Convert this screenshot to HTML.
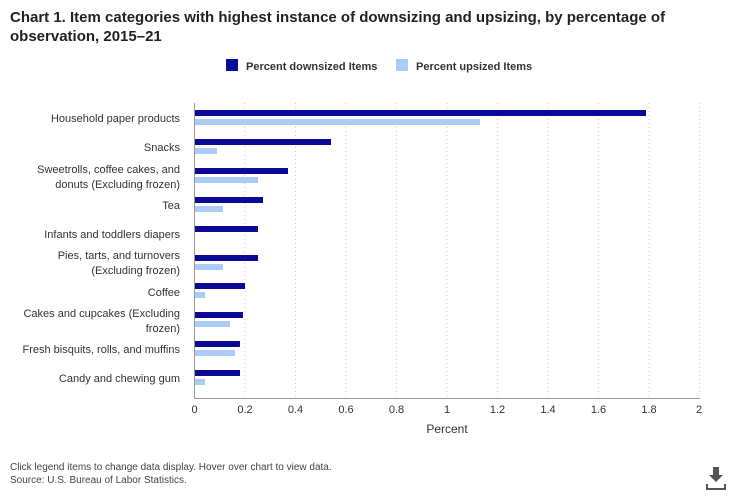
<!DOCTYPE html><html><head><style>body{margin:0;background:#fff;width:740px;height:493px;overflow:hidden;font-family:"Liberation Sans",sans-serif}</style></head><body>
<svg width="740" height="493" xmlns="http://www.w3.org/2000/svg" font-family="Liberation Sans, sans-serif">
<text x="10" y="22" font-size="15" font-weight="bold" fill="#222">Chart 1. Item categories with highest instance of downsizing and upsizing, by percentage of</text>
<text x="10" y="41" font-size="15" font-weight="bold" fill="#222">observation, 2015–21</text>
<rect x="226" y="59" width="12" height="12" fill="#0a0a96"/><text x="246" y="70" font-size="11" font-weight="bold" fill="#333">Percent downsized Items</text>
<rect x="396" y="59" width="12" height="12" fill="#aacdf7"/><text x="416" y="70" font-size="11" font-weight="bold" fill="#333">Percent upsized Items</text>
<g stroke="#ccc" stroke-dasharray="1,3">
<line x1="245" y1="103" x2="245" y2="398"/><line x1="295.5" y1="103" x2="295.5" y2="398"/><line x1="346" y1="103" x2="346" y2="398"/><line x1="396.5" y1="103" x2="396.5" y2="398"/><line x1="447" y1="103" x2="447" y2="398"/><line x1="497.5" y1="103" x2="497.5" y2="398"/><line x1="548" y1="103" x2="548" y2="398"/><line x1="598.5" y1="103" x2="598.5" y2="398"/><line x1="649" y1="103" x2="649" y2="398"/><line x1="699.5" y1="103" x2="699.5" y2="398"/>
</g>
<line x1="194.5" y1="103" x2="194.5" y2="398" stroke="#999"/>
<line x1="194" y1="398.5" x2="700" y2="398.5" stroke="#999"/>
<g font-size="11" fill="#333" text-anchor="middle">
<text x="194.5" y="413">0</text><text x="245" y="413">0.2</text><text x="295.5" y="413">0.4</text><text x="346" y="413">0.6</text><text x="396.5" y="413">0.8</text><text x="447" y="413">1</text><text x="497.5" y="413">1.2</text><text x="548" y="413">1.4</text><text x="598.5" y="413">1.6</text><text x="649" y="413">1.8</text><text x="699" y="413">2</text>
<text x="447" y="433" font-size="12">Percent</text>
</g>
<g fill="#0a0a96">
<rect x="195" y="110" width="451" height="6"/><rect x="195" y="139" width="136" height="6"/><rect x="195" y="168" width="93" height="6"/><rect x="195" y="197" width="68" height="6"/><rect x="195" y="226" width="63" height="6"/><rect x="195" y="255" width="63" height="6"/><rect x="195" y="283" width="50" height="6"/><rect x="195" y="312" width="48" height="6"/><rect x="195" y="341" width="45" height="6"/><rect x="195" y="370" width="45" height="6"/>
</g>
<g fill="#aacdf7">
<rect x="195" y="119" width="285" height="6"/><rect x="195" y="148" width="22" height="6"/><rect x="195" y="177" width="63" height="6"/><rect x="195" y="206" width="28" height="6"/><rect x="195" y="264" width="28" height="6"/><rect x="195" y="292" width="10" height="6"/><rect x="195" y="321" width="35" height="6"/><rect x="195" y="350" width="40" height="6"/><rect x="195" y="379" width="10" height="6"/>
</g>
<g font-size="11" fill="#333" text-anchor="end">
<text x="180" y="122">Household paper products</text>
<text x="180" y="151">Snacks</text>
<text x="180" y="173">Sweetrolls, coffee cakes, and</text><text x="180" y="188">donuts (Excluding frozen)</text>
<text x="180" y="209">Tea</text>
<text x="180" y="238">Infants and toddlers diapers</text>
<text x="180" y="259">Pies, tarts, and turnovers</text><text x="180" y="274">(Excluding frozen)</text>
<text x="180" y="296">Coffee</text>
<text x="180" y="317">Cakes and cupcakes (Excluding</text><text x="180" y="332">frozen)</text>
<text x="180" y="353">Fresh bisquits, rolls, and muffins</text>
<text x="180" y="382">Candy and chewing gum</text>
</g>
<text x="10" y="470" font-size="10" fill="#444">Click legend items to change data display. Hover over chart to view data.</text>
<text x="10" y="483" font-size="10" fill="#444">Source: U.S. Bureau of Labor Statistics.</text>
<g fill="#555"><rect x="713" y="467" width="6" height="8"/><polygon points="709,475 723,475 716,482"/><rect x="706" y="488" width="20" height="2"/><rect x="706" y="484" width="2" height="5"/><rect x="724" y="484" width="2" height="5"/></g>
</svg></body></html>
